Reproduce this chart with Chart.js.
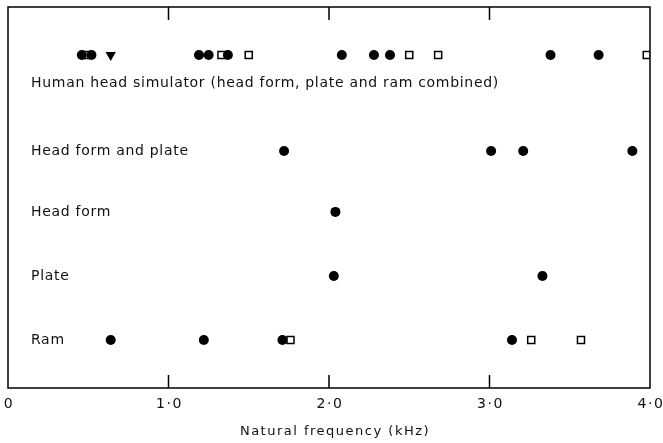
<!DOCTYPE html>
<html>
<head>
<meta charset="utf-8">
<script src="https://cdn.jsdelivr.net/npm/chart.js@4"></script>
<style>
  html, body { margin: 0; padding: 0; background: #fff; }
  #wrap { width: 663px; height: 443px; }
</style>
</head>
<body>
<div id="wrap"><canvas id="freqChart"></canvas></div>
<script>
// row labels and their vertical positions (in row units)
const rowLabels = [
  "Human head simulator (head form, plate and ram combined)",
  "Head form and plate",
  "Head form",
  "Plate",
  "Ram"
];
const rowPos = [5.45, 3.95, 3, 2, 1];

// natural frequencies (kHz)
const humanCircles = [0.46, 0.52, 1.19, 1.25, 1.37, 2.08, 2.28, 2.38, 3.38, 3.68];
const humanSquares = [0.49, 1.33, 1.50, 2.50, 2.68, 3.98];
const humanTriangles = [0.64];
const headPlateCircles = [1.72, 3.01, 3.21, 3.89];
const headFormCircles = [2.04];
const plateCircles = [2.03, 3.33];
const ramCircles = [0.64, 1.22, 1.71, 3.14];
const ramSquares = [1.76, 3.26, 3.57];

const xTicks = [0, 1, 2, 3, 4];
const xTickLabels = ["0", "1·0", "2·0", "3·0", "4·0"];
const xTitle = "Natural frequency (kHz)";

const toPoints = (vals, row) => vals.map(v => ({ x: v, y: rowPos[row] }));

const circleStyle = {
  pointStyle: "circle",
  pointRadius: 5,
  backgroundColor: "#000",
  borderColor: "#000",
  borderWidth: 0
};
const squareStyle = {
  pointStyle: "rect",
  pointRadius: 5,
  backgroundColor: "#fff",
  borderColor: "#000",
  borderWidth: 1.5
};

// box, inward ticks, axis text and row labels
const frame = {
  id: "frame",
  afterDraw(chart) {
    const { ctx, chartArea: a, scales } = chart;
    ctx.save();
    ctx.strokeStyle = "#000";
    ctx.lineWidth = 1.5;
    ctx.strokeRect(a.left, a.top, a.right - a.left, a.bottom - a.top);
    xTicks.slice(1, -1).forEach(t => {
      const x = scales.x.getPixelForValue(t);
      ctx.beginPath();
      ctx.moveTo(x, a.bottom);
      ctx.lineTo(x, a.bottom - 13);
      ctx.moveTo(x, a.top);
      ctx.lineTo(x, a.top + 13);
      ctx.stroke();
    });

    ctx.fillStyle = "#111";
    ctx.textBaseline = "middle";

    // x tick labels
    ctx.font = "14px 'DejaVu Sans'";
    ctx.letterSpacing = "1.5px";
    ctx.textAlign = "center";
    xTicks.forEach((t, i) => {
      ctx.fillText(xTickLabels[i], scales.x.getPixelForValue(t) + 1, a.bottom + 16);
    });

    // x title
    ctx.font = "13px 'DejaVu Sans'";
    ctx.fillText(xTitle, (a.left + a.right) / 2 + 6, a.bottom + 44);

    // row labels
    ctx.font = "14px 'DejaVu Sans'";
    ctx.letterSpacing = "0.7px";
    ctx.textAlign = "left";
    rowLabels.forEach((lab, i) => {
      let y = scales.y.getPixelForValue(rowPos[i]);
      if (i === 0) y += 28;
      ctx.fillText(lab, 31, y);
    });
    ctx.restore();
  }
};

new Chart(document.getElementById("freqChart"), {
  type: "scatter",
  data: {
    datasets: [
      { label: "HH circles", data: toPoints(humanCircles, 0), ...circleStyle },
      { label: "HH squares", data: toPoints(humanSquares, 0), ...squareStyle },
      { label: "HH triangles", data: toPoints(humanTriangles, 0), pointStyle: "triangle", rotation: 180, pointRadius: 6, backgroundColor: "#000", borderColor: "#000", borderWidth: 0 },
      { label: "Head form and plate", data: toPoints(headPlateCircles, 1), ...circleStyle },
      { label: "Head form", data: toPoints(headFormCircles, 2), ...circleStyle },
      { label: "Plate", data: toPoints(plateCircles, 3), ...circleStyle },
      { label: "Ram circles", data: toPoints(ramCircles, 4), ...circleStyle },
      { label: "Ram squares", data: toPoints(ramSquares, 4), ...squareStyle }
    ]
  },
  options: {
    responsive: true,
    maintainAspectRatio: false,
    animation: false,
    layout: { padding: { left: 8, right: 13, top: 7, bottom: 55 } },
    plugins: { legend: { display: false }, tooltip: { enabled: false } },
    scales: {
      x: { type: "linear", display: false, min: 0, max: 4 },
      y: { type: "linear", display: false, min: 0.25, max: 6.2 }
    }
  },
  plugins: [frame]
});
</script>
</body>
</html>
